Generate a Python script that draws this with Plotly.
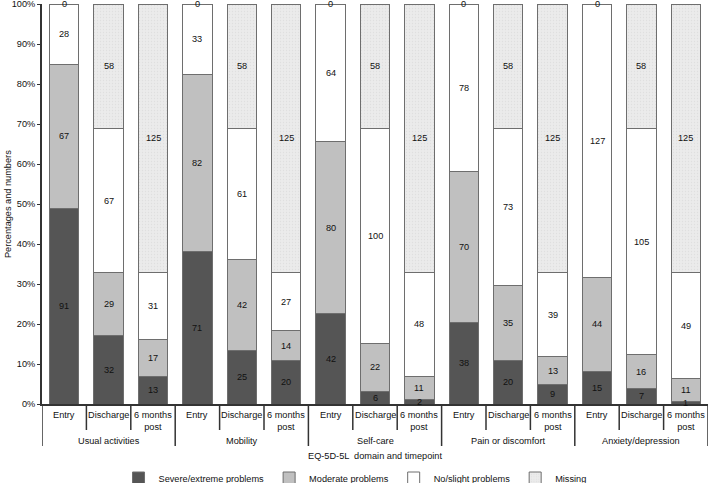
import plotly.graph_objects as go

domains = ["Usual activities", "Mobility", "Self-care", "Pain or discomfort", "Anxiety/depression"]
timepoints = ["Entry", "Discharge", "6 months<br>post"]
series_names = ["Severe/extreme problems", "Moderate problems", "No/slight problems", "Missing"]

severe   = [91, 32, 13, 71, 25, 20, 42, 6, 2, 38, 20, 9, 15, 7, 1]
moderate = [67, 29, 17, 82, 42, 14, 80, 22, 11, 70, 35, 13, 44, 16, 11]
noslight = [28, 67, 31, 33, 61, 27, 64, 100, 48, 78, 73, 39, 127, 105, 49]
missing  = [0, 58, 125, 0, 58, 125, 0, 58, 125, 0, 58, 125, 0, 58, 125]

y_tick_vals = list(range(0, 101, 10))
y_tick_text = [f"{v}%" for v in y_tick_vals]

series = [severe, moderate, noslight, missing]
colors = ["#555555", "#c0c0c0", "#ffffff", "#e8e8e8"]

cats = [f"{d} - {t}" for d in domains for t in timepoints]
n = len(cats)

fig = go.Figure()
for name, vals, col in zip(series_names, series, colors):
    kw = {}
    if name == "Missing":
        kw = dict(pattern=dict(shape=".", bgcolor="#ebebeb", fgcolor="#d4d4d4", size=3, solidity=0.2))
    fig.add_trace(go.Bar(
        x=cats, y=vals, name=name,
        marker=dict(color=col, line=dict(color="#6e6e6e", width=1), **kw),
        hoverinfo="skip",
    ))

ann = []
font = dict(family="Liberation Sans, Arial", size=9.2, color="#111111")
for i in range(n):
    total = sum(s[i] for s in series)
    cum = 0
    for s in series:
        v = s[i]
        mid = (cum + v / 2) / total * 100
        cum += v
        if v == 0 and cum == 0:
            continue
        ann.append(dict(x=i, y=mid, xref="x", yref="y", text=str(v), showarrow=False, font=font))

for di, d in enumerate(domains):
    for ti, t in enumerate(timepoints):
        i = di * 3 + ti
        ann.append(dict(x=i, y=-0.011, xref="x", yref="paper", text=t, showarrow=False,
                        yanchor="top", font=font))
    ann.append(dict(x=di * 3 + 1, y=-0.0925, xref="x", yref="paper", text=d, showarrow=False,
                    yanchor="middle", font=font))
ann.append(dict(x=0.5, y=-0.13, xref="paper", yref="paper", text="EQ-5D-5L  domain and timepoint",
                showarrow=False, yanchor="middle", font=font))
ann.append(dict(x=-0.051, y=0.5, xref="paper", yref="paper", text="Percentages and numbers",
                textangle=-90, showarrow=False, xanchor="center", yanchor="middle", font=font))

shapes = []
for b in range(n + 1):
    xb = b - 0.5
    y1 = -0.105 if b % 3 == 0 else -0.065
    shapes.append(dict(type="line", xref="x", yref="paper", x0=xb, x1=xb, y0=0, y1=y1,
                       line=dict(color="#333333", width=1.5)))

fig.update_layout(
    barmode="stack", barnorm="percent", bargap=0.34,
    width=709, height=483,
    margin=dict(l=42, r=1, t=4, b=79, autoexpand=False),
    plot_bgcolor="white", paper_bgcolor="white",
    font=font,
    annotations=ann, shapes=shapes,
    showlegend=True,
    legend=dict(orientation="h", x=0.47, xanchor="center", y=-0.185, yanchor="middle",
                font=dict(family="Liberation Sans, Arial", size=9.2, color="#111111"),
                itemwidth=30, traceorder="normal", bgcolor="rgba(0,0,0,0)"),
)
fig.update_xaxes(showticklabels=False, showline=True, linecolor="#333333", linewidth=1.5,
                 ticks="", showgrid=False, range=[-0.5, n - 0.5], automargin=False)
fig.update_yaxes(range=[0, 100], tickmode="array", tickvals=y_tick_vals, ticktext=y_tick_text,
                 showline=True, linecolor="#333333", linewidth=2, ticks="outside", ticklen=3,
                 tickcolor="#333333", showgrid=False, zeroline=False, automargin=False,
                 ticklabeloverflow="allow",
                 tickfont=dict(family="Liberation Sans, Arial", size=9.2, color="#111111"))

fig.write_html("out.html", config={"displayModeBar": False},
               post_script="document.body.style.margin='0px';")
